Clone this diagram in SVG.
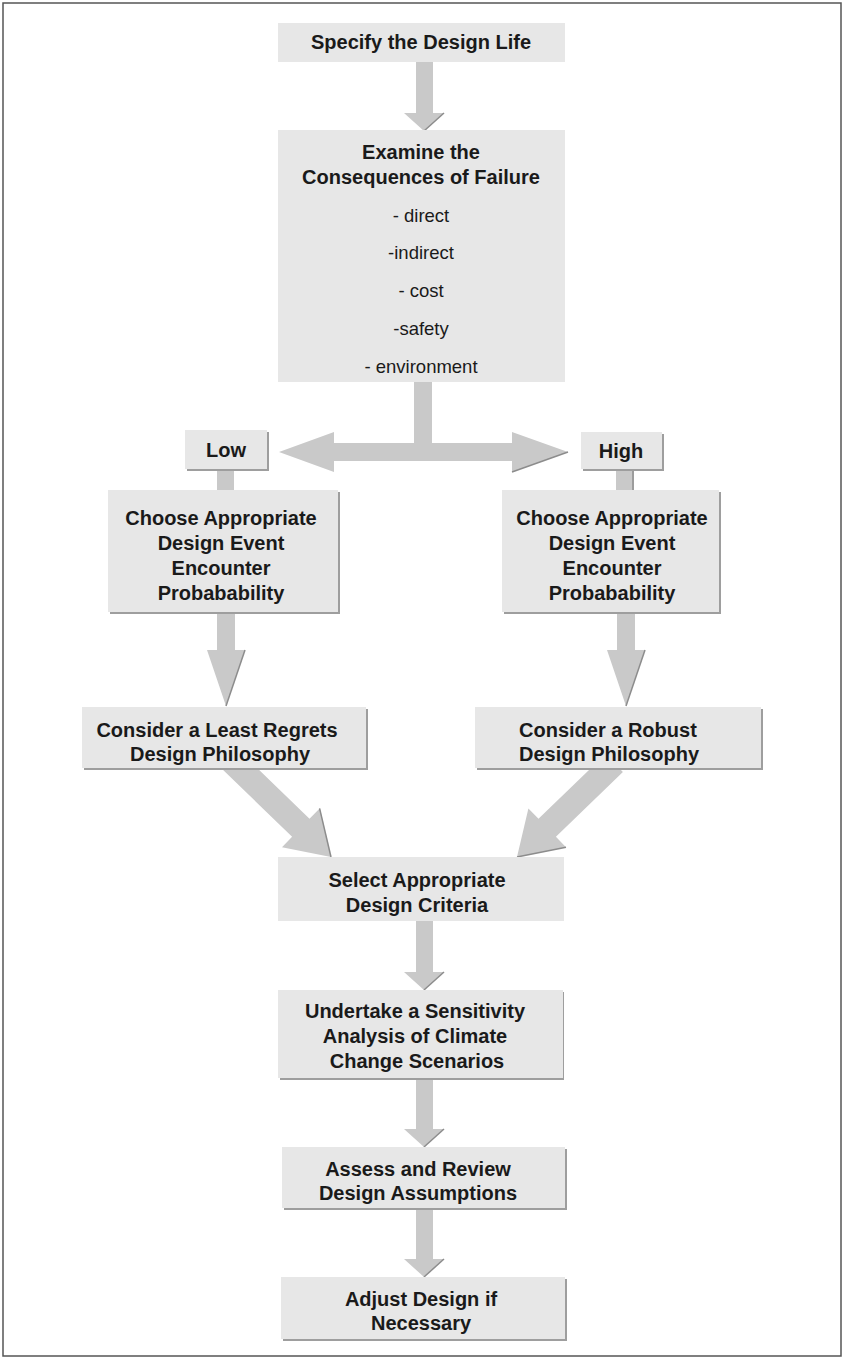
<svg xmlns="http://www.w3.org/2000/svg" width="844" height="1359" viewBox="0 0 844 1359">
<style>
.bg{fill:#ffffff}
.frame{fill:none;stroke:#555555;stroke-width:1.5}
.box{fill:#e7e7e7}
.sh{fill:#9e9e9e}
.arrow{fill:#c9c9c9}
.edge{fill:none;stroke:#8c8c8c;stroke-width:1.5}
.t{font-family:"Liberation Sans",Arial,Helvetica,sans-serif;font-size:20px;font-weight:bold;fill:#1a1a1a;text-anchor:middle}
.r{font-weight:normal;font-size:18.5px}
.ls{text-anchor:start}
</style>
<rect class="bg" x="0" y="0" width="844" height="1359"/>
<rect class="frame" x="3" y="3" width="838" height="1353"/>

<g id="connectors">
  <!-- Specify -> Examine -->
  <polygon class="arrow" points="416,62 433,62 433,113 444,113 424,131 404,113 416,113"/>
  <polyline class="edge" points="444,113 424,131"/>
  <!-- Examine -> split -->
  <rect class="arrow" x="414" y="381" width="18" height="64"/>
  <!-- double arrow Low/High -->
  <polygon class="arrow" points="279,452 334,432 334,443 512,443 512,432 568,452 512,472 512,461 334,461 334,472"/>
  <polyline class="edge" points="568,452 512,472"/>
  <!-- Low -> Choose (left) -->
  <rect class="arrow" x="217" y="468" width="17" height="23"/>
  <!-- High -> Choose (right) -->
  <rect class="arrow" x="616" y="468" width="18" height="23"/>
  <line class="edge" x1="633" y1="469" x2="633" y2="490"/>
  <!-- Choose left -> Consider Least Regrets -->
  <polygon class="arrow" points="217,613 235,613 235,650 245,650 226,706 207,650 217,650"/>
  <polyline class="edge" points="245,650 226,706"/>
  <!-- Choose right -> Consider Robust -->
  <polygon class="arrow" points="617,613 635,613 635,650 645,650 626,706 607,650 617,650"/>
  <polyline class="edge" points="645,650 626,706"/>
  <!-- Least Regrets -> Select -->
  <polygon class="arrow" points="223.1,770 292.1,836.8 282,847.2 331,857 319.6,808.4 309.5,818.8 240.5,752"/>
  <polyline class="edge" points="319.6,808.4 331,857"/>
  <!-- Robust -> Select -->
  <polygon class="arrow" points="605.5,754.1 538.5,818.8 528.4,808.4 517,857 566,847.2 555.9,836.8 622.9,772.1"/>
  <polyline class="edge" points="566,847.2 517,857"/>
  <!-- Select -> Undertake -->
  <polygon class="arrow" points="416,921 433,921 433,972 444,972 424,990 404,972 416,972"/>
  <polyline class="edge" points="444,972 424,990"/>
  <!-- Undertake -> Assess -->
  <polygon class="arrow" points="416,1078 433,1078 433,1129 444,1129 424,1147 404,1129 416,1129"/>
  <polyline class="edge" points="444,1129 424,1147"/>
  <!-- Assess -> Adjust -->
  <polygon class="arrow" points="416,1208 433,1208 433,1259 444,1259 424,1277 404,1259 416,1259"/>
  <polyline class="edge" points="444,1259 424,1277"/>
</g>

<g id="n-specify">
  <rect class="box" x="278" y="23" width="287" height="39"/>
  <text class="t" x="421" y="49">Specify the Design Life</text>
</g>

<g id="n-examine">
  <rect class="box" x="278" y="130" width="287" height="252"/>
  <text class="t" x="421" y="159">Examine the</text>
  <text class="t" x="421" y="184">Consequences of Failure</text>
  <text class="t r" x="421" y="222">- direct</text>
  <text class="t r" x="421" y="259">-indirect</text>
  <text class="t r" x="421" y="297">- cost</text>
  <text class="t r" x="421" y="335">-safety</text>
  <text class="t r" x="421" y="373">- environment</text>
</g>

<g id="n-low">
  <rect class="sh" x="187" y="432" width="82" height="39"/>
  <rect class="box" x="185" y="430" width="82" height="39"/>
  <text class="t" x="226" y="457">Low</text>
</g>

<g id="n-high">
  <rect class="sh" x="583" y="434" width="81" height="37"/>
  <rect class="box" x="581" y="432" width="81" height="37"/>
  <text class="t" x="621" y="458">High</text>
</g>

<g id="n-choose-left">
  <rect class="sh" x="110" y="492" width="230" height="122"/>
  <rect class="box" x="108" y="490" width="230" height="122"/>
  <text class="t" x="221" y="525">Choose Appropriate</text>
  <text class="t" x="221" y="550">Design Event</text>
  <text class="t" x="221" y="575">Encounter</text>
  <text class="t" x="221" y="600">Probabability</text>
</g>

<g id="n-choose-right">
  <rect class="sh" x="504" y="492" width="217" height="122"/>
  <rect class="box" x="502" y="490" width="217" height="122"/>
  <text class="t" x="612" y="525">Choose Appropriate</text>
  <text class="t" x="612" y="550">Design Event</text>
  <text class="t" x="612" y="575">Encounter</text>
  <text class="t" x="612" y="600">Probabability</text>
</g>

<g id="n-least-regrets">
  <rect class="sh" x="84" y="709" width="284" height="61"/>
  <rect class="box" x="82" y="707" width="284" height="61"/>
  <text class="t" x="217" y="737">Consider a Least Regrets</text>
  <text class="t" x="220" y="761">Design Philosophy</text>
</g>

<g id="n-robust">
  <rect class="sh" x="477" y="709" width="286" height="61"/>
  <rect class="box" x="475" y="707" width="286" height="61"/>
  <text class="t ls" x="519" y="737">Consider a Robust</text>
  <text class="t ls" x="519" y="761">Design Philosophy</text>
</g>

<g id="n-select">
  <rect class="box" x="278" y="857" width="286" height="64"/>
  <text class="t" x="417" y="887">Select Appropriate</text>
  <text class="t" x="417" y="912">Design Criteria</text>
</g>

<g id="n-undertake">
  <rect class="sh" x="280" y="992" width="284" height="88"/>
  <rect class="box" x="278" y="990" width="285" height="88"/>
  <text class="t" x="415" y="1018">Undertake a Sensitivity</text>
  <text class="t" x="415" y="1043">Analysis of Climate</text>
  <text class="t" x="417" y="1068">Change Scenarios</text>
</g>

<g id="n-assess">
  <rect class="sh" x="284" y="1149" width="283" height="61"/>
  <rect class="box" x="282" y="1147" width="283" height="61"/>
  <text class="t" x="418" y="1176">Assess and Review</text>
  <text class="t" x="418" y="1200">Design Assumptions</text>
</g>

<g id="n-adjust">
  <rect class="sh" x="283" y="1279" width="284" height="62"/>
  <rect class="box" x="281" y="1277" width="284" height="62"/>
  <text class="t" x="421" y="1306">Adjust Design if</text>
  <text class="t" x="421" y="1330">Necessary</text>
</g>
</svg>
